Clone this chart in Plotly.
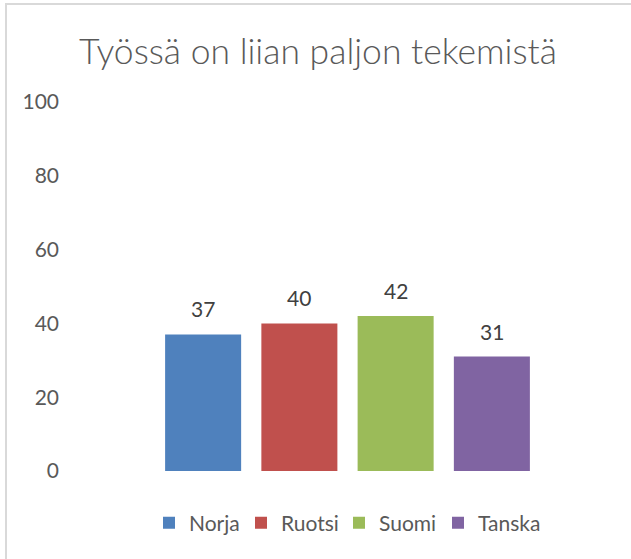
import plotly.graph_objects as go

countries = ["Norja", "Ruotsi", "Suomi", "Tanska"]
values = [37, 40, 42, 31]
colors = ["#4f81bd", "#c0504d", "#9bbb59", "#8064a2"]
y_ticks = [0, 20, 40, 60, 80, 100]
title_text = "Työssä on liian paljon tekemistä"

FONT = "Lato"
legend_names = ["legend", "legend2", "legend3", "legend4"]
legend_px = [149, 241, 339, 438]  # left pixel of each legend entry

fig = go.Figure()
for c, v, col, lg in zip(countries, values, colors, legend_names):
    fig.add_trace(go.Bar(x=[c], y=[v], name=c, marker=dict(color=col, line=dict(width=0)),
                         width=0.79, hoverinfo="x+y", legend=lg))

annotations = []
for c, v in zip(countries, values):
    annotations.append(dict(x=c, y=v, text=str(v), showarrow=False, xref="x", yref="y",
                            yanchor="bottom", yshift=11,
                            font=dict(family=FONT, size=21, color="#404040")))

legend_common = dict(orientation="h", xanchor="left", xref="paper",
                     y=(471 - 523) / 369, yref="paper", yanchor="middle",
                     font=dict(family=FONT, size=21, color="#595959"),
                     itemclick=False, bgcolor="rgba(0,0,0,0)")
legends = {lg: dict(x=(px - 155) / 385, **legend_common) for lg, px in zip(legend_names, legend_px)}

fig.update_layout(
    width=631, height=559,
    margin=dict(l=155, r=91, t=102, b=88, autoexpand=False),
    paper_bgcolor="white", plot_bgcolor="white",
    barmode="overlay",
    title=dict(text=title_text, x=318 / 631, xref="container", xanchor="center",
               y=1 - 52 / 559, yref="container", yanchor="middle",
               font=dict(family=FONT, size=35.5, color="#595959", weight=300)),
    xaxis=dict(type="category", categoryorder="array", categoryarray=countries,
               range=[-0.5, 3.5], showticklabels=False, showgrid=False, zeroline=False,
               showline=False, ticks=""),
    yaxis=dict(range=[0, 100], tickvals=y_ticks, showgrid=False, zeroline=False,
               showline=False, ticks="", ticklabelstandoff=95,
               tickfont=dict(family=FONT, size=21, color="#595959")),
    showlegend=True,
    annotations=annotations,
    shapes=[dict(type="rect", xref="paper", yref="paper",
                 x0=(6 - 155) / 385, x1=(660 - 155) / 385,
                 y0=(471 - 600) / 369, y1=(471 - 4) / 369,
                 line=dict(color="#d9d9d9", width=2), fillcolor="rgba(0,0,0,0)",
                 layer="below")],
    **legends,
)

fig.write_html("out.html", config={"displayModeBar": False},
               post_script="document.body.style.margin='0';")
